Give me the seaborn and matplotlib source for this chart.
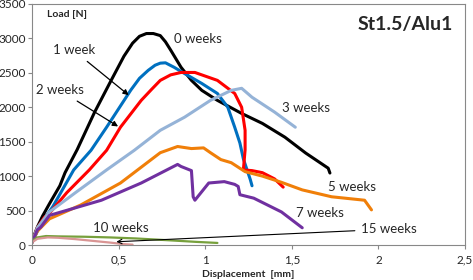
import matplotlib
matplotlib.use("Agg")
import matplotlib.pyplot as plt
import matplotlib.ticker as mticker
import pandas as pd
import seaborn as sns

# load-displacement curves
w0_x = [0, 0.01, 0.03, 0.06, 0.10, 0.16, 0.19, 0.26, 0.36, 0.45, 0.53, 0.58, 0.62, 0.66, 0.70, 0.74, 0.77, 0.80, 0.86, 0.92, 0.98, 1.07, 1.21, 1.33, 1.46, 1.58, 1.71, 1.72]
w0_y = [40, 130, 260, 420, 600, 860, 1050, 1385, 1925, 2360, 2740, 2930, 3030, 3070, 3070, 3040, 2950, 2830, 2580, 2390, 2245, 2100, 1910, 1765, 1565, 1335, 1115, 1045]

w1_x = [0, 0.03, 0.07, 0.12, 0.24, 0.34, 0.43, 0.57, 0.62, 0.67, 0.71, 0.74, 0.77, 0.82, 0.88, 0.98, 1.07, 1.13, 1.17, 1.20, 1.22, 1.24, 1.26, 1.27]
w1_y = [40, 200, 380, 560, 1090, 1375, 1710, 2250, 2420, 2535, 2610, 2640, 2645, 2580, 2490, 2345, 2200, 2000, 1710, 1480, 1250, 1100, 950, 860]

w2_x = [0, 0.03, 0.07, 0.10, 0.20, 0.33, 0.43, 0.51, 0.63, 0.69, 0.74, 0.80, 0.86, 0.94, 1.07, 1.17, 1.21, 1.23, 1.23, 1.22, 1.27, 1.33, 1.40, 1.45]
w2_y = [40, 250, 400, 460, 760, 1090, 1375, 1710, 2100, 2260, 2390, 2470, 2505, 2505, 2390, 2200, 2000, 1665, 1380, 1090, 1080, 1050, 960, 840]

w3_x = [0, 0.03, 0.10, 0.25, 0.43, 0.59, 0.74, 0.88, 1.03, 1.15, 1.21, 1.27, 1.40, 1.52]
w3_y = [40, 250, 480, 760, 1090, 1375, 1665, 1855, 2100, 2245, 2275, 2145, 1930, 1710]

w5_x = [0, 0.03, 0.10, 0.28, 0.51, 0.74, 0.84, 0.92, 0.99, 1.03, 1.09, 1.15, 1.23, 1.33, 1.44, 1.56, 1.73, 1.92, 1.96]
w5_y = [40, 200, 380, 580, 900, 1340, 1430, 1400, 1410, 1340, 1240, 1195, 1065, 1000, 910, 800, 700, 650, 510]

w7_x = [0, 0.03, 0.05, 0.10, 0.40, 0.63, 0.84, 0.86, 0.92, 0.93, 0.94, 1.02, 1.11, 1.17, 1.19, 1.20, 1.28, 1.44, 1.56]
w7_y = [40, 220, 260, 430, 650, 900, 1170, 1140, 1080, 700, 650, 900, 920, 880, 850, 730, 680, 480, 250]

w10_x = [0, 0.03, 0.08, 0.15, 0.30, 0.45, 0.60, 0.78, 0.95, 1.07]
w10_y = [60, 110, 130, 125, 120, 110, 95, 70, 45, 30]

w15_x = [0, 0.03, 0.09, 0.15, 0.25, 0.35, 0.45, 0.52, 0.58]
w15_y = [40, 90, 110, 105, 85, 60, 35, 15, 5]

series = [
    ("0 weeks", w0_x, w0_y, "black"),
    ("1 week", w1_x, w1_y, "#0070C0"),
    ("2 weeks", w2_x, w2_y, "#FF0000"),
    ("3 weeks", w3_x, w3_y, "#95B3D7"),
    ("5 weeks", w5_x, w5_y, "#F07F09"),
    ("7 weeks", w7_x, w7_y, "#7030A0"),
    ("10 weeks", w10_x, w10_y, "#77A03C"),
    ("15 weeks", w15_x, w15_y, "#D99594"),
]

sns.set_style("white")
plt.rcParams["font.family"] = ["Lato", "DejaVu Sans"]

fig = plt.figure(figsize=(4.73, 2.80), dpi=100)
ax = fig.add_axes([0.068, 0.125, 0.915, 0.861])

for name, xs, ys, col in series:
    df = pd.DataFrame({"x": xs, "y": ys})
    lw = 1.6 if name in ("10 weeks", "15 weeks") else 2.2
    sns.lineplot(data=df, x="x", y="y", sort=False, estimator=None,
                 color=col, lw=lw, ax=ax)

ax.set_xlim(0, 2.5)
ax.set_ylim(0, 3500)
ax.set_xticks([0, 0.5, 1, 1.5, 2, 2.5])
ax.set_yticks(range(0, 3501, 500))
ax.xaxis.set_major_formatter(mticker.FuncFormatter(lambda v, p: ("%g" % v).replace(".", ",")))
ax.tick_params(labelsize=8.5, length=3, color="#888888", pad=1.5,
               bottom=True, left=True, direction="out")
ax.tick_params(axis="x", pad=4)
for s in ax.spines.values():
    s.set_color("#888888")
    s.set_linewidth(0.8)
ax.set_xlabel("Displacement  [mm]", fontsize=7.5, fontweight="bold", labelpad=3)
ax.set_ylabel("")

ax.text(0.035, 0.955, "Load [N]", transform=ax.transAxes, fontsize=7.5,
        fontweight="bold", ha="left", va="center")
ax.text(0.862, 0.913, "St1.5/Alu1", transform=ax.transAxes, fontsize=14,
        fontweight="bold", ha="center", va="center")

# curve labels
ax.text(0.96, 2990, "0 weeks", fontsize=9.5, ha="center", va="center")
ax.text(1.58, 1990, "3 weeks", fontsize=9.5, ha="center", va="center")
ax.text(1.85, 840, "5 weeks", fontsize=9.5, ha="center", va="center")
ax.text(1.66, 460, "7 weeks", fontsize=9.5, ha="center", va="center")
ax.text(0.51, 250, "10 weeks", fontsize=9.5, ha="center", va="center")

arw = dict(arrowstyle="-|>", color="black", lw=0.9, mutation_scale=8)
ax.annotate("1 week", xy=(0.57, 2150), xytext=(0.24, 2825), fontsize=9.5,
            ha="center", va="center", arrowprops=arw)
ax.annotate("2 weeks", xy=(0.51, 1700), xytext=(0.16, 2245), fontsize=9.5,
            ha="center", va="center", arrowprops=arw)
ax.annotate("15 weeks", xy=(0.47, 45), xytext=(2.06, 230), fontsize=9.5,
            ha="center", va="center",
            arrowprops=dict(arrowstyle="->", color="black", lw=0.8, mutation_scale=8))

fig.savefig("out.png", dpi=100)
